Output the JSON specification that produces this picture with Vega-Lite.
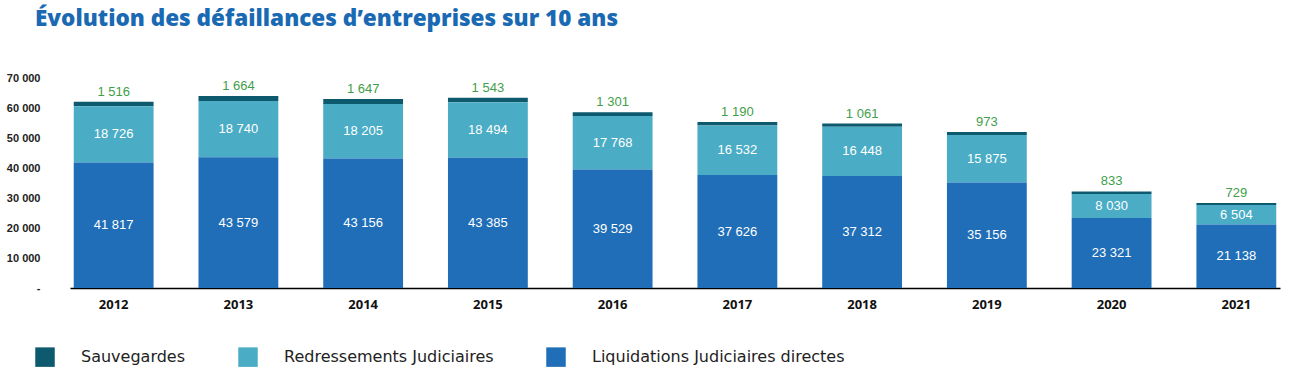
{
  "$schema": "https://vega.github.io/schema/vega-lite/v6.json",
  "autosize": {"type": "none"},
  "width": 1210,
  "height": 210,
  "padding": {"left": 70, "top": 78, "right": 12, "bottom": 90},
  "background": "white",
  "config": {
    "locale": {"number": {"decimal": ",", "thousands": " ", "grouping": [3], "currency": ["", " €"]}},
    "view": {"stroke": null}
  },
  "title": {
    "text": "Évolution des défaillances d’entreprises sur 10 ans",
    "anchor": "start",
    "frame": "group",
    "dx": -35,
    "offset": 24,
    "baseline": "alphabetic",
    "font": "Open Sans",
    "fontSize": 22.5,
    "fontWeight": 800,
    "color": "#1a69b3"
  },
  "data": {
    "values": [
      {"annee": "2012", "type": "Sauvegardes", "valeur": 1516},
      {"annee": "2012", "type": "Redressements Judiciaires", "valeur": 18726},
      {"annee": "2012", "type": "Liquidations Judiciaires directes", "valeur": 41817},
      {"annee": "2013", "type": "Sauvegardes", "valeur": 1664},
      {"annee": "2013", "type": "Redressements Judiciaires", "valeur": 18740},
      {"annee": "2013", "type": "Liquidations Judiciaires directes", "valeur": 43579},
      {"annee": "2014", "type": "Sauvegardes", "valeur": 1647},
      {"annee": "2014", "type": "Redressements Judiciaires", "valeur": 18205},
      {"annee": "2014", "type": "Liquidations Judiciaires directes", "valeur": 43156},
      {"annee": "2015", "type": "Sauvegardes", "valeur": 1543},
      {"annee": "2015", "type": "Redressements Judiciaires", "valeur": 18494},
      {"annee": "2015", "type": "Liquidations Judiciaires directes", "valeur": 43385},
      {"annee": "2016", "type": "Sauvegardes", "valeur": 1301},
      {"annee": "2016", "type": "Redressements Judiciaires", "valeur": 17768},
      {"annee": "2016", "type": "Liquidations Judiciaires directes", "valeur": 39529},
      {"annee": "2017", "type": "Sauvegardes", "valeur": 1190},
      {"annee": "2017", "type": "Redressements Judiciaires", "valeur": 16532},
      {"annee": "2017", "type": "Liquidations Judiciaires directes", "valeur": 37626},
      {"annee": "2018", "type": "Sauvegardes", "valeur": 1061},
      {"annee": "2018", "type": "Redressements Judiciaires", "valeur": 16448},
      {"annee": "2018", "type": "Liquidations Judiciaires directes", "valeur": 37312},
      {"annee": "2019", "type": "Sauvegardes", "valeur": 973},
      {"annee": "2019", "type": "Redressements Judiciaires", "valeur": 15875},
      {"annee": "2019", "type": "Liquidations Judiciaires directes", "valeur": 35156},
      {"annee": "2020", "type": "Sauvegardes", "valeur": 833},
      {"annee": "2020", "type": "Redressements Judiciaires", "valeur": 8030},
      {"annee": "2020", "type": "Liquidations Judiciaires directes", "valeur": 23321},
      {"annee": "2021", "type": "Sauvegardes", "valeur": 729},
      {"annee": "2021", "type": "Redressements Judiciaires", "valeur": 6504},
      {"annee": "2021", "type": "Liquidations Judiciaires directes", "valeur": 21138}
    ]
  },
  "encoding": {
    "x": {
      "field": "annee",
      "type": "nominal",
      "scale": {"paddingInner": 0.36, "paddingOuter": 0.03},
      "axis": {
        "title": null,
        "labelAngle": 0,
        "ticks": false,
        "domainColor": "#000000",
        "domainWidth": 1.5,
        "labelPadding": 10,
        "labelFont": "Open Sans",
        "labelFontWeight": "bold",
        "labelFontSize": 13,
        "labelColor": "#111111"
      }
    }
  },
  "layer": [
    {
      "mark": {"type": "bar"},
      "encoding": {
        "y": {
          "field": "valeur",
          "type": "quantitative",
          "stack": "zero",
          "scale": {"domain": [0, 70000], "nice": false},
          "axis": {
            "title": null,
            "values": [0, 10000, 20000, 30000, 40000, 50000, 60000, 70000],
            "labelExpr": "datum.value == 0 ? '-' : datum.label",
            "format": ",d",
            "labelOverlap": false,
            "domain": false,
            "ticks": false,
            "grid": false,
            "labelPadding": 30,
            "labelFont": "Liberation Sans",
            "labelFontWeight": "bold",
            "labelFontSize": 11,
            "labelColor": "#222222"
          }
        },
        "order": {"field": "type", "sort": "ascending"},
        "color": {
          "field": "type",
          "type": "nominal",
          "scale": {
            "domain": ["Sauvegardes", "Redressements Judiciaires", "Liquidations Judiciaires directes"],
            "range": ["#0d5a6e", "#4aacc5", "#1f6eb7"]
          },
          "legend": {
            "title": null,
            "orient": "none",
            "legendX": -35,
            "legendY": 269,
            "direction": "horizontal",
            "symbolType": "square",
            "symbolSize": 380,
            "symbolStrokeWidth": 0,
            "labelOffset": 26,
            "columnPadding": 52,
            "labelLimit": 400,
            "labelFont": "DejaVu Sans",
            "labelFontSize": 16,
            "labelColor": "#222222",
            "padding": 0
          }
        }
      }
    },
    {
      "transform": [{"filter": "datum.type != 'Sauvegardes'"}],
      "mark": {"type": "text", "color": "white", "font": "Liberation Sans", "fontSize": 13},
      "encoding": {
        "y": {
          "field": "valeur",
          "type": "quantitative",
          "stack": "zero",
          "bandPosition": 0.5,
          "axis": {
            "title": null,
            "values": [0, 10000, 20000, 30000, 40000, 50000, 60000, 70000],
            "labelExpr": "datum.value == 0 ? '-' : datum.label",
            "format": ",d",
            "labelOverlap": false,
            "domain": false,
            "ticks": false,
            "grid": false,
            "labelPadding": 30,
            "labelFont": "Liberation Sans",
            "labelFontWeight": "bold",
            "labelFontSize": 11,
            "labelColor": "#222222"
          }
        },
        "order": {"field": "type", "sort": "ascending"},
        "text": {"field": "valeur", "type": "quantitative", "format": ",d"}
      }
    },
    {
      "transform": [
        {"joinaggregate": [{"op": "sum", "field": "valeur", "as": "total"}], "groupby": ["annee"]},
        {"filter": "datum.type == 'Sauvegardes'"}
      ],
      "mark": {"type": "text", "color": "#3f9e4a", "font": "Liberation Sans", "fontSize": 13, "dy": -10},
      "encoding": {
        "y": {
          "field": "total",
          "type": "quantitative",
          "axis": {
            "title": null,
            "values": [0, 10000, 20000, 30000, 40000, 50000, 60000, 70000],
            "labelExpr": "datum.value == 0 ? '-' : datum.label",
            "format": ",d",
            "labelOverlap": false,
            "domain": false,
            "ticks": false,
            "grid": false,
            "labelPadding": 30,
            "labelFont": "Liberation Sans",
            "labelFontWeight": "bold",
            "labelFontSize": 11,
            "labelColor": "#222222"
          }
        },
        "text": {"field": "valeur", "type": "quantitative", "format": ",d"}
      }
    }
  ]
}
